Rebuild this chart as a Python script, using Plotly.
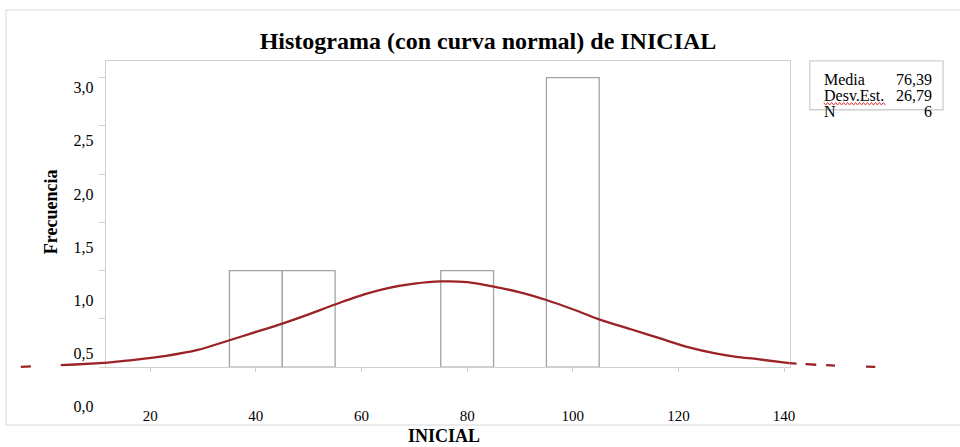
import plotly.graph_objects as go

# ---------------- data ----------------
bin_centers = [40, 50, 80, 100]
bin_width = 10
frecuencia = [1, 1, 1, 3]

# fitted normal curve
curve_x = [12, 17, 23, 29, 35, 40, 45, 50, 55, 61, 65, 70, 75, 80, 85, 90, 95,
           100, 105, 111, 117, 122, 127, 131, 135, 141]
curve_y = [0.047, 0.075, 0.117, 0.179, 0.279, 0.365, 0.452, 0.548, 0.65, 0.762,
           0.82, 0.866, 0.889, 0.882, 0.835, 0.776, 0.696, 0.60, 0.496, 0.393,
           0.29, 0.205, 0.142, 0.107, 0.083, 0.041]

# dashed tails of the curve drawn outside the plot frame
tail_left_x = [-4.5, 3.0, 10.5, 12]
tail_left_y = [0.003, 0.021, 0.041, 0.047]
tail_right_x = [141, 144.2, 148.9, 157.4]
tail_right_y = [0.041, 0.031, 0.018, 0.003]

x_ticks = [20, 40, 60, 80, 100, 120, 140]
y_ticks = [0.0, 0.5, 1.0, 1.5, 2.0, 2.5, 3.0]

stats_labels = ["Media", "Desv.Est.", "N"]
stats_values = ["76,39", "26,79", "6"]

title_text = "Histograma (con curva normal) de INICIAL"
x_title = "INICIAL"
y_title = "Frecuencia"

# ---------------- layout geometry (pixels) ----------------
W, H = 960, 447
X20_PX, PX_PER_X = 151.0, 5.31     # pixel of x=20, pixels per x unit
Y0_PX, PX_PER_Y = 368.0, 96.7      # pixel of y=0, pixels per y unit
PLOT_L, PLOT_R, PLOT_T, PLOT_B = 107, 794, 61, 368


def xv(px):
    return 20 + (px - X20_PX) / PX_PER_X


def fx(px):
    return px / W


def fy(py):
    return 1 - py / H


SERIF = "Liberation Serif, Times New Roman, serif"
FRAME = "#cfcfcf"
BAR_LINE = "#a3a3a3"
CURVE = "#9b2226"

fig = go.Figure()

fig.add_trace(go.Bar(
    x=bin_centers, y=frecuencia, width=bin_width,
    marker=dict(color="white", line=dict(color=BAR_LINE, width=1.3)),
    xaxis="x", yaxis="y", hoverinfo="skip", showlegend=False))

fig.add_trace(go.Scatter(
    x=curve_x, y=curve_y, mode="lines", line=dict(color=CURVE, width=2.3, shape="spline", smoothing=0.8),
    xaxis="x", yaxis="y", hoverinfo="skip", showlegend=False))

# dashed extensions outside the frame (on a full-width invisible subplot)
fig.add_trace(go.Scatter(
    x=tail_left_x, y=tail_left_y, mode="lines",
    line=dict(color=CURVE, width=2.3, dash="10px,30px,200px", shape="spline"),
    xaxis="x2", yaxis="y3", hoverinfo="skip", showlegend=False))
fig.add_trace(go.Scatter(
    x=tail_right_x, y=tail_right_y, mode="lines",
    line=dict(color=CURVE, width=2.3, dash="7px,9px,11px,10px,9px,31px,9px,200px", shape="spline"),
    xaxis="x2", yaxis="y3", hoverinfo="skip", showlegend=False))

# empty trace so that the label axis subplot exists
fig.add_trace(go.Scatter(x=[], y=[], xaxis="x", yaxis="y2", showlegend=False, hoverinfo="skip"))

lab_lo_px, lab_hi_px = 415, 80
lab_0_px, lab_3_px = 407, 88
lab_ppu = (lab_0_px - lab_3_px) / 3.0

fig.update_layout(
    width=W, height=H,
    margin=dict(l=0, r=0, t=0, b=0),
    paper_bgcolor="white", plot_bgcolor="rgba(0,0,0,0)",
    separators=",.",
    showlegend=False,
    title=dict(text="<b>" + title_text + "</b>", x=fx(488), xanchor="center",
               y=fy(41), yanchor="middle",
               font=dict(family=SERIF, size=24, color="black")),
    xaxis=dict(domain=[fx(PLOT_L), fx(PLOT_R)], range=[xv(PLOT_L), xv(PLOT_R)],
               anchor="y", showline=True, mirror=True, linecolor=FRAME, linewidth=1.3,
               ticks="outside", ticklen=4, tickcolor=FRAME, tickwidth=1.2,
               tickvals=x_ticks, ticklabelstandoff=31,
               tickfont=dict(family=SERIF, size=15, color="black"),
               showgrid=False, zeroline=False, fixedrange=True),
    yaxis=dict(domain=[fy(PLOT_B), fy(PLOT_T)],
               range=[0, (PLOT_B - PLOT_T) / PX_PER_Y],
               anchor="x", showline=True, mirror=True, linecolor=FRAME, linewidth=1.3,
               ticks="outside", ticklen=6, tickcolor=FRAME, tickwidth=1.2,
               tickvals=y_ticks, showticklabels=False,
               showgrid=False, zeroline=False, fixedrange=True),
    yaxis2=dict(domain=[fy(lab_lo_px), fy(lab_hi_px)],
                range=[-(lab_lo_px - lab_0_px) / lab_ppu, 3 + (lab_3_px - lab_hi_px) / lab_ppu],
                anchor="x", showline=False, ticks="", tickvals=y_ticks, tickformat=".1f",
                ticklabelstandoff=12,
                tickfont=dict(family=SERIF, size=16, color="black"),
                showgrid=False, zeroline=False, fixedrange=True),
    xaxis2=dict(domain=[0, 1], range=[xv(0), xv(W)], anchor="y3", visible=False, fixedrange=True),
    yaxis3=dict(domain=[0, 1], range=[-(H - Y0_PX) / PX_PER_Y, Y0_PX / PX_PER_Y],
                anchor="x2", visible=False, fixedrange=True),
)

# axis titles
fig.add_annotation(text="<b>" + x_title + "</b>", x=fx(446), y=fy(436.5), xref="paper", yref="paper",
                   xanchor="center", yanchor="middle", showarrow=False,
                   font=dict(family=SERIF, size=18, color="black"))
fig.add_annotation(text="<b>" + y_title + "</b>", x=fx(51), y=fy(212), xref="paper", yref="paper",
                   xanchor="center", yanchor="middle", showarrow=False, textangle=-90,
                   font=dict(family=SERIF, size=18, color="black"))

# outer light frame
fig.add_shape(type="rect", xref="paper", yref="paper",
              x0=fx(6), x1=fx(970), y0=fy(426), y1=fy(10),
              line=dict(color="#e6e6e6", width=1.5), fillcolor="rgba(0,0,0,0)", layer="below")

# statistics box
fig.add_shape(type="rect", xref="paper", yref="paper",
              x0=fx(814), x1=fx(948), y0=fy(110), y1=fy(61),
              line=dict(color=FRAME, width=1.3), fillcolor="rgba(0,0,0,0)")
rows_px = [80, 96, 112]
for lab, val, ry in zip(stats_labels, stats_values, rows_px):
    fig.add_annotation(text=lab, x=fx(826), y=fy(ry), xref="paper", yref="paper",
                       xanchor="left", yanchor="middle", showarrow=False,
                       font=dict(family=SERIF, size=16, color="black"))
    fig.add_annotation(text=val, x=fx(939), y=fy(ry), xref="paper", yref="paper",
                       xanchor="right", yanchor="middle", showarrow=False,
                       font=dict(family=SERIF, size=16, color="black"))

# red wavy underline under "Desv.Est."
pts = []
px = 828
k = 0
while px <= 890:
    py = 104 + (1.3 if k % 2 else -1.3)
    pts.append((fx(px), fy(py)))
    px += 2
    k += 1
path = "M " + " L ".join(f"{a:.5f},{b:.5f}" for a, b in pts)
fig.add_shape(type="path", xref="paper", yref="paper", path=path,
              line=dict(color="#e03a3a", width=1))

fig.write_html("out.html")
